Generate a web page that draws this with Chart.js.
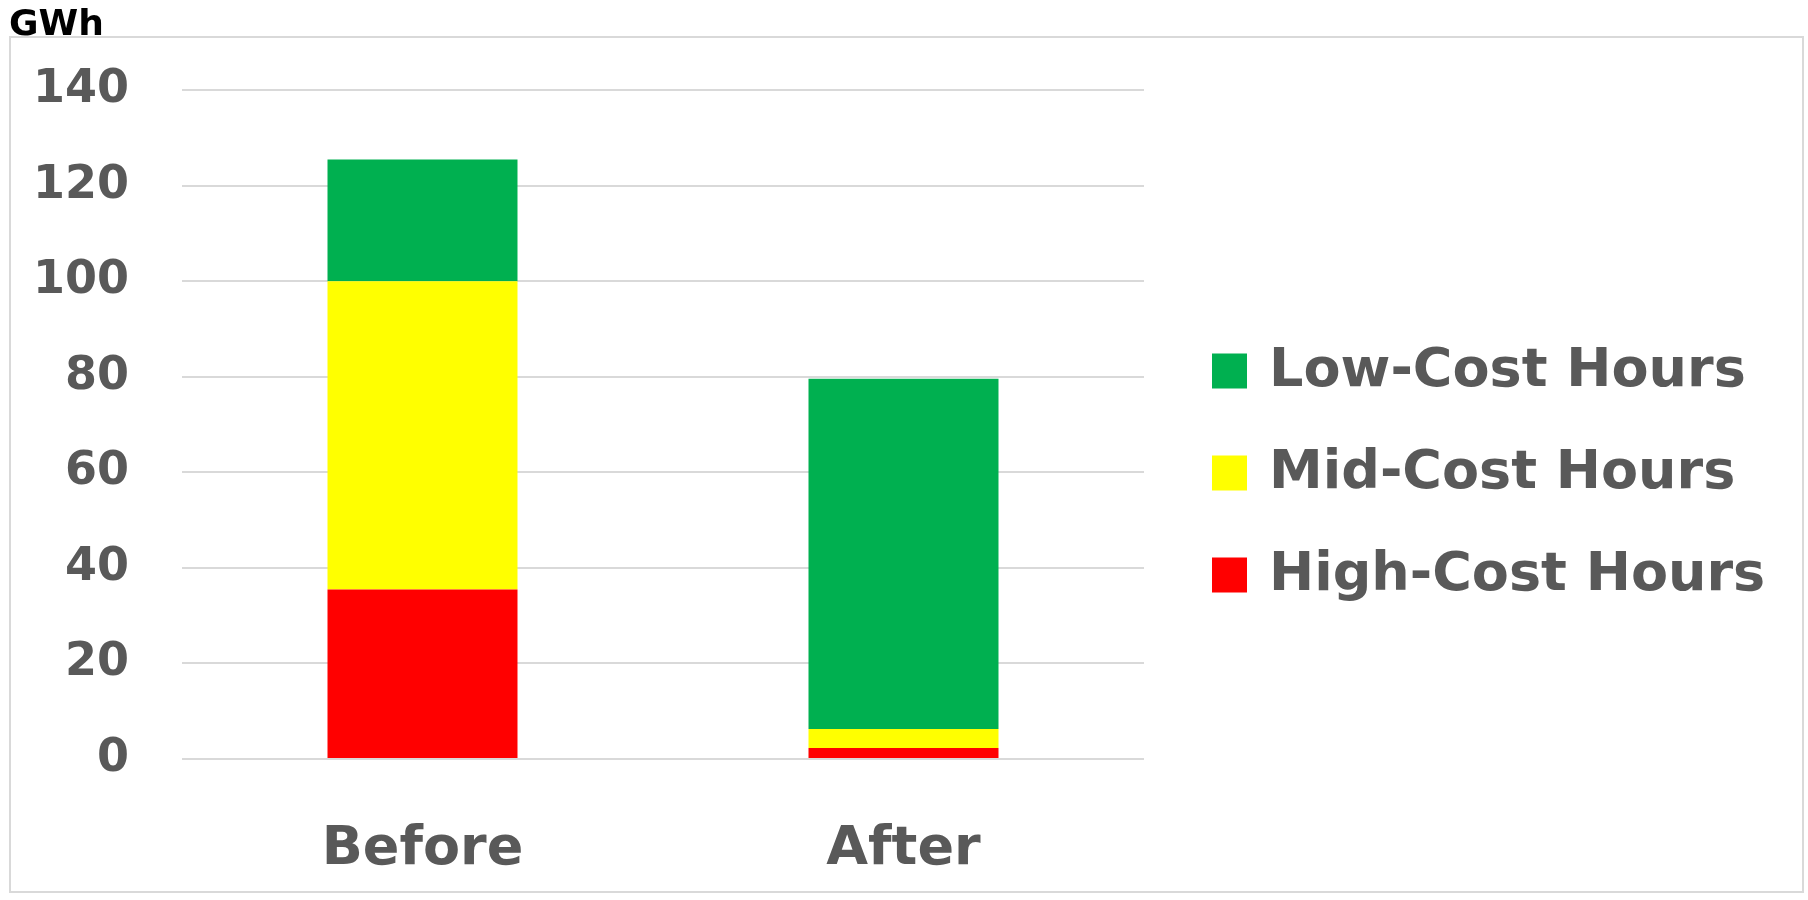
<!DOCTYPE html>
<html>
<head>
<meta charset="utf-8">
<script src="https://cdn.jsdelivr.net/npm/chart.js@4/dist/chart.umd.min.js"></script>
<style>
  html, body { margin: 0; padding: 0; background: #ffffff; }
  #wrap { width: 1808px; height: 900px; position: relative; }
</style>
</head>
<body>
<div id="wrap"><canvas id="c" width="1808" height="900"></canvas></div>
<script>
const categories = ["Before", "After"];
const highCost = [35.5, 2.3];
const midCost = [64.5, 4.0];
const lowCost = [25.5, 73.3];
const seriesLabels = ["High-Cost Hours", "Mid-Cost Hours", "Low-Cost Hours"];
const seriesColors = ["#FF0000", "#FFFF00", "#00B050"];
const yTicks = [0, 20, 40, 60, 80, 100, 120, 140];
const unitLabel = "GWh";

const GRAY = "#595959";
const FONT = "'DejaVu Sans', 'Liberation Sans', Arial, sans-serif";

const framePlugin = {
  id: "frame",
  beforeDraw(chart) {
    const ctx = chart.ctx;
    ctx.save();
    ctx.fillStyle = "#ffffff";
    ctx.fillRect(0, 0, chart.width, chart.height);
    ctx.strokeStyle = "#d9d9d9";
    ctx.lineWidth = 2;
    ctx.strokeRect(10, 37, 1793, 855);
    ctx.restore();
  }
};

// Legend drawn from the chart's own datasets (top-to-bottom in reverse stack order)
const sideLegend = {
  id: "sideLegend",
  afterDraw(chart) {
    const ctx = chart.ctx;
    const ds = chart.data.datasets.slice().reverse();
    const boxX = 1212, box = 35, textX = 1269, firstY = 371, step = 102;
    ctx.save();
    ctx.font = "bold 54px " + FONT;
    ctx.textBaseline = "middle";
    ctx.textAlign = "left";
    ds.forEach((d, i) => {
      const cy = firstY + i * step;
      ctx.fillStyle = d.backgroundColor;
      ctx.fillRect(boxX, cy - box / 2, box, box);
      ctx.fillStyle = GRAY;
      ctx.fillText(d.label, textX, cy + 1);
    });
    ctx.restore();
  }
};

new Chart(document.getElementById("c"), {
  type: "bar",
  data: {
    labels: categories,
    datasets: [
      { label: seriesLabels[0], data: highCost, backgroundColor: seriesColors[0] },
      { label: seriesLabels[1], data: midCost, backgroundColor: seriesColors[1] },
      { label: seriesLabels[2], data: lowCost, backgroundColor: seriesColors[2] }
    ]
  },
  options: {
    responsive: false,
    animation: false,
    devicePixelRatio: 1,
    layout: { padding: { left: 9, right: 664, top: 0, bottom: 26 } },
    datasets: { bar: { categoryPercentage: 1.0, barPercentage: 0.395, borderWidth: 0 } },
    plugins: {
      title: {
        display: true,
        text: unitLabel,
        align: "start",
        color: "#000000",
        font: { family: FONT, size: 36, weight: "bold" },
        padding: { top: 4, bottom: 43 }
      },
      legend: { display: false },
      tooltip: { enabled: false }
    },
    scales: {
      x: {
        stacked: true,
        afterFit(scale) { scale.height = 115; },
        grid: { display: false, drawTicks: false },
        border: { display: false },
        ticks: {
          color: GRAY,
          padding: 59,
          maxRotation: 0,
          font: { family: FONT, size: 54, weight: "bold" }
        }
      },
      y: {
        stacked: true,
        min: 0,
        max: 140,
        afterFit(scale) { scale.width = 173; },
        afterBuildTicks(scale) { scale.ticks = yTicks.map(v => ({ value: v })); },
        grid: { color: "#d9d9d9", lineWidth: 2, drawTicks: false },
        border: { display: false },
        ticks: {
          color: GRAY,
          padding: 53,
          font: { family: FONT, size: 46, weight: "bold" }
        }
      }
    }
  },
  plugins: [framePlugin, sideLegend]
});
</script>
</body>
</html>
